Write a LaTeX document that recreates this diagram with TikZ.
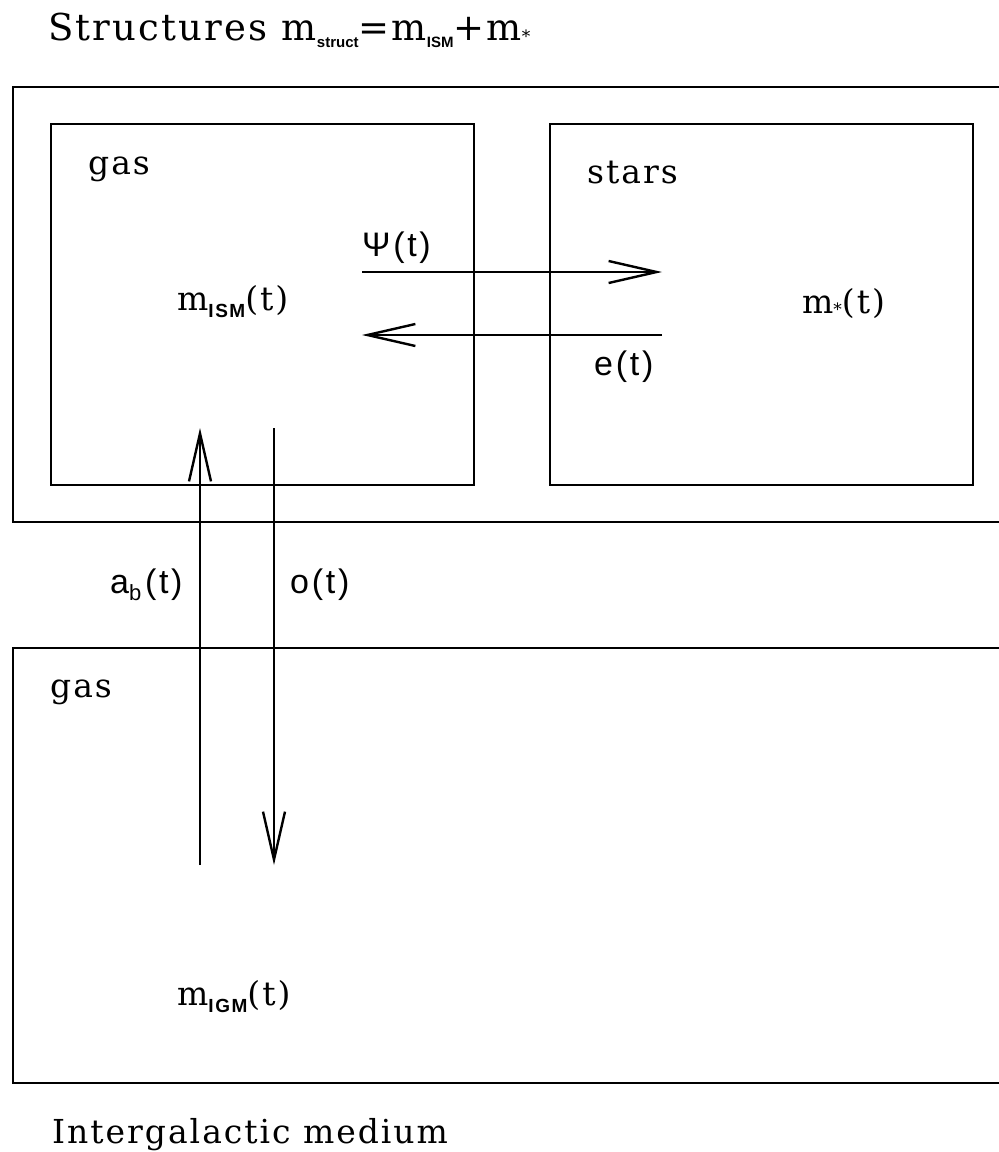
\documentclass[tikz,border=0pt]{standalone}
\usepackage{fontspec}
\setmainfont{DejaVu Serif}[LetterSpace=6]
\setsansfont{Liberation Sans}[LetterSpace=8]
\newfontfamily\subfont{Liberation Sans}[LetterSpace=0]
\usetikzlibrary{arrows.meta,positioning}
\tikzset{
  frame/.style={rectangle, draw=black, line width=2.1pt, anchor=north west,
                inner sep=0pt},
  flow/.style={-{Straight Barb[length=48pt,width=22pt,line width=2.4pt]},
               line width=2.2pt},
  lbl/.style={anchor=base west, inner sep=0pt, font=\fontsize{33}{36}\selectfont},
  slbl/.style={anchor=base west, inner sep=0pt, font=\sffamily\fontsize{34}{36}\selectfont},
  ttl/.style={anchor=base west, inner sep=0pt, font=\fontsize{37}{40}\selectfont}
}
\newcommand{\subl}[1]{\raisebox{-0.45ex}{\fontsize{19}{19}\selectfont\sffamily\bfseries #1}}
\newcommand{\subt}[1]{\raisebox{-0.4ex}{\fontsize{15}{15}\selectfont\subfont\bfseries #1}}
\newcommand{\substar}{\raisebox{-0.15ex}{\fontsize{17}{17}\selectfont *}}

\begin{document}
\begin{tikzpicture}[x=1pt, y=-1pt]
  \useasboundingbox (0,0) rectangle (999,1152);
  \clip (0,0) rectangle (999,1152);

  % boxes
  \node[frame, minimum width=1030pt, minimum height=435pt] (struct) at (12,86) {};
  \node[frame, minimum width=423pt, minimum height=361pt] (gasbox) at (50,123) {};
  \node[frame, minimum width=423pt, minimum height=361pt] (starbox) at (549,123) {};
  \node[frame, minimum width=1030pt, minimum height=435pt] (igm) at (12,647) {};

  % labels
  \node[ttl] (title) at (48,40) {Structures m\subt{struct}{=}m\subt{ISM}{+}m\substar};
  \node[lbl] (gastop) at (88,174) {gas};
  \node[lbl] (stars) at (587,183) {stars};
  \node[lbl] (mism) at (177,310) {m\subl{ISM}(t)};
  \node[lbl] (mstar) at (802,313) {m\substar(t)};
  \node[slbl] (psi) at (362,256) {Ψ(t)};
  \node[slbl] (eje) at (594,375) {e(t)};
  \node[slbl] (acc) at (110,593) {a\raisebox{-0.4ex}{\fontsize{22}{22}\selectfont b\,}(t)};
  \node[slbl] (out) at (290,593) {o(t)};
  \node[lbl] (gasbot) at (50,697) {gas};
  \node[lbl] (migm) at (177,1005) {m\subl{IGM}(t)};
  \node[lbl] (medium) at (52,1143) {Intergalactic medium};

  % flows
  \coordinate (psiA) at (362,272);  \coordinate (psiB) at (662,272);
  \coordinate (ejeA) at (662,335);  \coordinate (ejeB) at (362,335);
  \coordinate (accA) at (200,865);  \coordinate (accB) at (200,428);
  \coordinate (outA) at (274,428);  \coordinate (outB) at (274,865);
  \draw[flow] (psiA) -- (psiB);
  \draw[flow] (ejeA) -- (ejeB);
  \draw[flow] (accA) -- (accB);
  \draw[flow] (outA) -- (outB);
\end{tikzpicture}
\end{document}
